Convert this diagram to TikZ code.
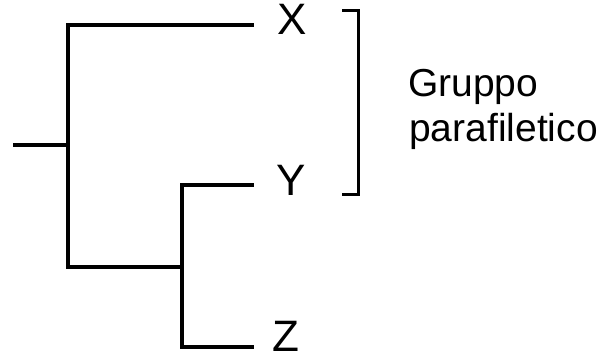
\documentclass[tikz,border=0pt]{standalone}
\usepackage{fontspec}
\setmainfont{Liberation Sans}
\begin{document}
\begin{tikzpicture}[x=1pt,y=-1pt,
  branch/.style={line width=3.4pt,line cap=rect,line join=miter},
  tip/.style={anchor=base west,inner sep=0pt,font=\fontsize{44}{44}\selectfont},
  caption/.style={anchor=base west,inner sep=0pt,font=\fontsize{39}{39}\selectfont}]
  \useasboundingbox (0,0) rectangle (603,361);
  % tree nodes
  \coordinate (root) at (15,145);
  \coordinate (top) at (68,25);
  \coordinate (mid) at (68,145);
  \coordinate (low) at (68,267);
  \coordinate (inner) at (182,267);
  \coordinate (innertop) at (182,185);
  \coordinate (innerbot) at (182,347);
  \coordinate (xend) at (252,25);
  \coordinate (yend) at (252,185);
  \coordinate (zend) at (252,347);
  % branches
  \draw[branch] (root) -- (mid);
  \draw[branch] (xend) -- (top) -- (low) -- (inner);
  \draw[branch] (yend) -- (innertop) -- (innerbot) -- (zend);
  % leaf labels
  \node[tip] (X) at (277,35) {X};
  \node[tip] (Y) at (276,195) {Y};
  \node[tip] (Z) at (272,351) {Z};
  % bracket around X and Y
  \coordinate (bt) at (342,11);
  \coordinate (bb) at (342,194);
  \draw[line width=3pt] (bt) -- (358,11) -- (358,194) -- (bb);
  % caption
  \node[caption] (g1) at (408,97) {Gruppo};
  \node[caption] (g2) at (409,142) {parafiletico};
\end{tikzpicture}
\end{document}
